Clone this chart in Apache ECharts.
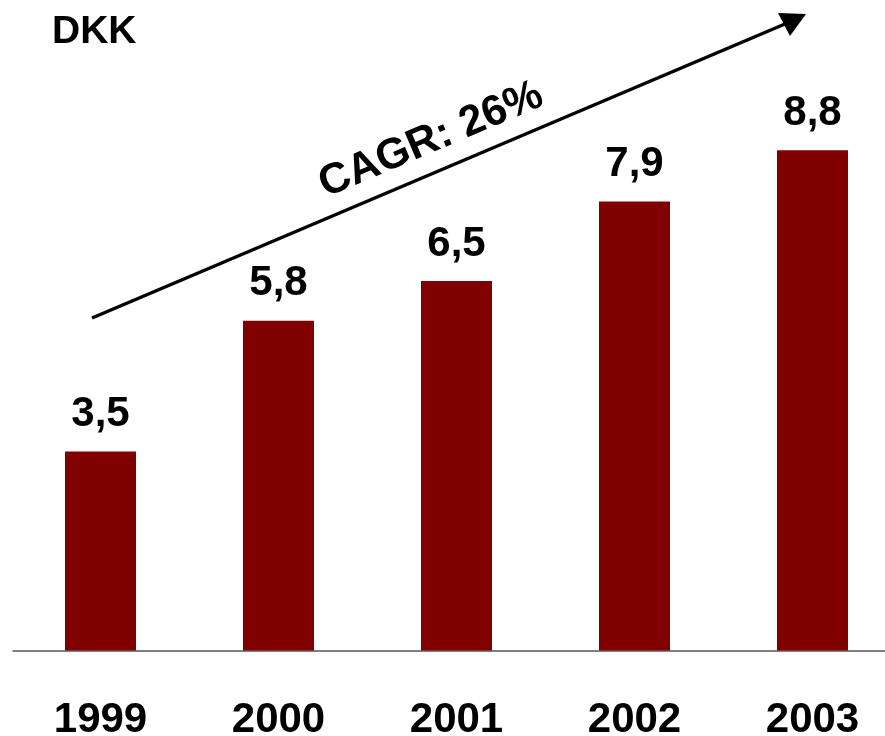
<!DOCTYPE html>
<html>
<head>
<meta charset="utf-8">
<script src="https://cdn.jsdelivr.net/npm/echarts@6/dist/echarts.min.js"></script>
<style>html,body{margin:0;padding:0;background:#fff}#c{width:885px;height:736px}</style>
</head>
<body>
<div id="c"></div>
<script>
const years = ['1999', '2000', '2001', '2002', '2003'];
const values = [3.5, 5.8, 6.5, 7.9, 8.8];
const unitLabel = 'DKK';
const cagrLabel = 'CAGR: 26%';

const FONT = '"Liberation Sans", Arial, sans-serif';
const chart = echarts.init(document.getElementById('c'), null, {renderer: 'canvas'});
chart.setOption({
  animation: false,
  backgroundColor: '#ffffff',
  grid: [
    {left: 100.5, top: 82, right: 72.5, bottom: 85.5, containLabel: false, outerBoundsMode: 'none'},
    {left: 13, top: 82, right: 0, bottom: 85.5, containLabel: false, outerBoundsMode: 'none'}
  ],
  xAxis: [{
    type: 'category',
    gridIndex: 0,
    data: years,
    boundaryGap: false,
    axisLine: {show: false},
    axisTick: {show: false},
    splitLine: {show: false},
    axisLabel: {color: '#000', fontFamily: FONT, fontWeight: 'bold', fontSize: 42, margin: 49, verticalAlign: 'top'}
  }, {
    type: 'value',
    gridIndex: 1,
    min: 0, max: 1,
    axisLine: {show: true, lineStyle: {color: '#555555', width: 1.5}},
    axisTick: {show: false},
    axisLabel: {show: false},
    splitLine: {show: false}
  }],
  yAxis: [{
    type: 'value', gridIndex: 0, min: 0, max: 10, interval: 1,
    show: false, splitLine: {show: false}
  }, {
    type: 'value', gridIndex: 1, min: 0, max: 10, interval: 1,
    show: false, splitLine: {show: false}
  }],
  series: [{
    type: 'bar',
    xAxisIndex: 0, yAxisIndex: 0,
    data: values,
    barWidth: 71,
    z: 3,
    itemStyle: {color: '#800000'},
    label: {
      show: true, position: 'top', distance: 16,
      color: '#000', fontFamily: FONT, fontWeight: 'bold', fontSize: 42,
      formatter: p => String(p.value).replace('.', ',')
    }
  }],
  graphic: [
    {type: 'text', left: 52, top: 13, style: {text: unitLabel, fill: '#000', font: 'bold 39px ' + FONT}},
    {type: 'line', shape: {x1: 92, y1: 318, x2: 792, y2: 21}, style: {stroke: '#000', lineWidth: 3.5}},
    {type: 'polygon', shape: {points: [[778, 13], [806, 14], [790, 36]]}, style: {fill: '#000'}},
    {type: 'text', x: 431, y: 140, rotation: 23 * Math.PI / 180,
     style: {text: cagrLabel, fill: '#000', font: 'bold 43px ' + FONT, align: 'center', verticalAlign: 'middle'}}
  ]
});
</script>
</body>
</html>
